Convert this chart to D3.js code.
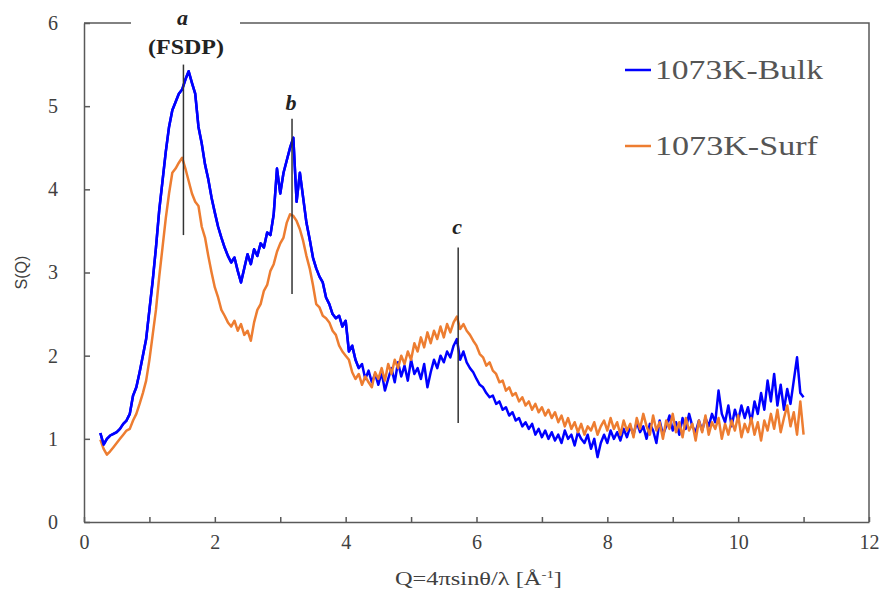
<!DOCTYPE html>
<html>
<head>
<meta charset="utf-8">
<script src="https://cdn.jsdelivr.net/npm/d3@7"></script>
<style>
  body { margin: 0; background: #fff; }
  svg { display: block; }
</style>
</head>
<body>
<svg width="880" height="599"></svg>
<script>
"use strict";

// Q grid [1/A]
const qValues = [
    0.25, 0.30, 0.35, 0.40, 0.45, 0.50, 0.55, 0.60, 0.65, 0.70,
    0.75, 0.80, 0.85, 0.90, 0.95, 1.00, 1.05, 1.10, 1.15, 1.20,
    1.25, 1.30, 1.35, 1.40, 1.45, 1.50, 1.55, 1.60, 1.65, 1.70,
    1.75, 1.80, 1.85, 1.90, 1.95, 2.00, 2.05, 2.10, 2.15, 2.20,
    2.25, 2.30, 2.35, 2.40, 2.45, 2.50, 2.55, 2.60, 2.65, 2.70,
    2.75, 2.80, 2.85, 2.90, 2.95, 3.00, 3.05, 3.10, 3.15, 3.20,
    3.25, 3.30, 3.35, 3.40, 3.45, 3.50, 3.55, 3.60, 3.65, 3.70,
    3.75, 3.80, 3.85, 3.90, 3.95, 4.00, 4.05, 4.10, 4.15, 4.20,
    4.25, 4.30, 4.35, 4.40, 4.45, 4.50, 4.55, 4.60, 4.65, 4.70,
    4.75, 4.80, 4.85, 4.90, 4.95, 5.00, 5.05, 5.10, 5.15, 5.20,
    5.25, 5.30, 5.35, 5.40, 5.45, 5.50, 5.55, 5.60, 5.65, 5.70,
    5.75, 5.80, 5.85, 5.90, 5.95, 6.00, 6.05, 6.10, 6.15, 6.20,
    6.25, 6.30, 6.35, 6.40, 6.45, 6.50, 6.55, 6.60, 6.65, 6.70,
    6.75, 6.80, 6.85, 6.90, 6.95, 7.00, 7.05, 7.10, 7.15, 7.20,
    7.25, 7.30, 7.35, 7.40, 7.45, 7.50, 7.55, 7.60, 7.65, 7.70,
    7.75, 7.80, 7.85, 7.90, 7.95, 8.00, 8.05, 8.10, 8.15, 8.20,
    8.25, 8.30, 8.35, 8.40, 8.45, 8.50, 8.55, 8.60, 8.65, 8.70,
    8.75, 8.80, 8.85, 8.90, 8.95, 9.00, 9.05, 9.10, 9.15, 9.20,
    9.25, 9.30, 9.35, 9.40, 9.45, 9.50, 9.55, 9.60, 9.65, 9.70,
    9.75, 9.80, 9.85, 9.90, 9.95, 10.00, 10.05, 10.10, 10.15, 10.20,
    10.25, 10.30, 10.35, 10.40, 10.45, 10.50, 10.55, 10.60, 10.65, 10.70,
    10.75, 10.80, 10.85, 10.90, 10.95, 11.00
];

const bulkValues = [
    1.07, 0.93, 1.00, 1.04, 1.06, 1.08, 1.12, 1.18, 1.22, 1.30,
    1.52, 1.62, 1.80, 2.00, 2.20, 2.55, 2.90, 3.30, 3.75, 4.10,
    4.45, 4.75, 4.95, 5.05, 5.15, 5.20, 5.32, 5.42, 5.28, 5.15,
    4.75, 4.55, 4.30, 4.12, 3.90, 3.72, 3.55, 3.42, 3.30, 3.20,
    3.12, 3.18, 3.02, 2.88, 3.05, 3.22, 3.10, 3.28, 3.20, 3.35,
    3.30, 3.48, 3.45, 3.70, 4.25, 3.95, 4.20, 4.35, 4.50, 4.62,
    3.85, 4.20, 3.90, 3.60, 3.40, 3.18, 3.05, 2.95, 2.88, 2.70,
    2.62, 2.50, 2.45, 2.48, 2.35, 2.42, 2.05, 2.12, 1.95, 1.85,
    1.90, 1.72, 1.82, 1.68, 1.78, 1.65, 1.80, 1.58, 1.72, 1.85,
    1.68, 1.92, 1.75, 1.88, 1.70, 1.95, 1.78, 1.85, 1.72, 1.90,
    1.62, 1.80, 1.95, 1.85, 2.00, 1.92, 2.05, 1.98, 2.12, 2.20,
    1.95, 2.05, 1.92, 1.85, 1.80, 1.72, 1.65, 1.62, 1.55, 1.50,
    1.52, 1.42, 1.45, 1.35, 1.38, 1.28, 1.32, 1.22, 1.25, 1.15,
    1.20, 1.12, 1.18, 1.05, 1.12, 1.02, 1.10, 1.00, 1.08, 0.98,
    1.05, 0.95, 1.10, 1.00, 1.05, 0.92, 1.08, 1.00, 0.95, 1.05,
    0.88, 1.00, 0.78, 0.95, 1.05, 0.95, 1.10, 1.00, 1.08, 0.98,
    1.12, 1.02, 1.15, 1.05, 1.20, 1.08, 1.15, 1.00, 1.18, 1.10,
    0.95, 1.22, 1.05, 1.15, 1.28, 1.10, 1.20, 1.05, 1.25, 1.12,
    1.30, 1.15, 1.08, 1.22, 1.10, 1.25, 1.15, 1.30, 1.20, 1.58,
    1.30, 1.20, 1.40, 1.15, 1.35, 1.22, 1.40, 1.25, 1.38, 1.20,
    1.45, 1.30, 1.55, 1.35, 1.70, 1.45, 1.78, 1.40, 1.65, 1.35,
    1.60, 1.42, 1.70, 1.98, 1.55, 1.50
];

const surfValues = [
    0.99, 0.88, 0.81, 0.85, 0.90, 0.95, 1.00, 1.05, 1.10, 1.12,
    1.22, 1.30, 1.42, 1.55, 1.70, 1.95, 2.25, 2.55, 2.95, 3.30,
    3.65, 3.95, 4.20, 4.25, 4.32, 4.38, 4.25, 4.10, 3.95, 3.85,
    3.80, 3.55, 3.42, 3.20, 3.00, 2.82, 2.70, 2.55, 2.48, 2.40,
    2.35, 2.42, 2.30, 2.38, 2.25, 2.30, 2.18, 2.40, 2.55, 2.62,
    2.78, 2.85, 3.02, 3.10, 3.25, 3.35, 3.42, 3.60, 3.70, 3.68,
    3.62, 3.52, 3.38, 3.20, 3.05, 2.85, 2.62, 2.58, 2.48, 2.45,
    2.40, 2.30, 2.25, 2.12, 2.05, 2.00, 1.95, 1.80, 1.72, 1.78,
    1.65, 1.75, 1.68, 1.62, 1.80, 1.72, 1.85, 1.70, 1.90, 1.78,
    1.95, 1.85, 2.00, 1.90, 2.05, 1.95, 2.15, 2.05, 2.22, 2.10,
    2.28, 2.15, 2.30, 2.20, 2.35, 2.22, 2.38, 2.28, 2.40, 2.47,
    2.32, 2.38, 2.30, 2.25, 2.18, 2.12, 2.02, 1.98, 1.88, 1.92,
    1.82, 1.78, 1.68, 1.70, 1.58, 1.62, 1.52, 1.55, 1.45, 1.50,
    1.40, 1.45, 1.35, 1.42, 1.32, 1.38, 1.28, 1.35, 1.25, 1.32,
    1.20, 1.28, 1.15, 1.25, 1.12, 1.20, 1.08, 1.18, 1.05, 1.15,
    1.10, 1.20, 1.05, 1.15, 1.22, 1.10, 1.25, 1.12, 1.20, 1.05,
    1.22, 1.10, 1.18, 1.02, 1.25, 1.12, 1.30, 1.15, 1.05, 1.28,
    1.10, 1.20, 1.00, 1.22, 1.12, 1.30, 1.08, 1.20, 1.02, 1.25,
    1.10, 1.18, 0.98, 1.22, 1.08, 1.28, 1.05, 1.20, 1.12, 1.25,
    1.00, 1.18, 1.05, 1.22, 1.10, 1.28, 1.02, 1.18, 1.08, 1.25,
    1.05, 1.20, 0.98, 1.22, 1.10, 1.30, 1.12, 1.35, 1.08, 1.25,
    1.40, 1.15, 1.32, 1.05, 1.45, 1.05
];

const seriesNames = ['1073K-Bulk', '1073K-Surf'];
const seriesColors = ['#0000ff', '#ed7d31'];

// peak markers: label, Q position, S(Q) span of the vertical line
const peakLabels = ['a', 'b', 'c'];
const peakQ = [1.52, 3.18, 5.72];
const peakTop = [5.5, 4.85, 3.3];
const peakBottom = [3.45, 2.74, 1.19];

const xTicks = d3.range(0, 13, 1);
const yTicks = [0, 1, 2, 3, 4, 5, 6];

const svg = d3.select('svg');
const margin = {top: 23, right: 11, bottom: 77, left: 84},
    width = +svg.attr('width') - margin.left - margin.right,
    height = +svg.attr('height') - margin.top - margin.bottom,
    g = svg.append('g').attr('transform', `translate(${margin.left},${margin.top})`);

const x = d3.scaleLinear().domain([0, 12]).range([0, width]);
const y = d3.scaleLinear().domain([0, 6]).range([height, 0]);

const axisColor = '#595959';
const serif = "'Liberation Serif', 'Times New Roman', serif";
const sans = "'Liberation Sans', Arial, sans-serif";

// frame (top and right)
g.append('path')
    .attr('d', `M0,0H${width}V${height}`)
    .attr('fill', 'none')
    .attr('stroke', axisColor)
    .attr('stroke-width', 1.5);

const xAxis = g.append('g')
    .attr('transform', `translate(0,${height})`)
    .call(d3.axisBottom(x).tickValues(xTicks).tickSizeInner(-5).tickSizeOuter(0)
        .tickPadding(13).tickFormat(d => d % 2 === 0 ? d : ''));
xAxis.select('.domain').attr('stroke', axisColor).attr('stroke-width', 1.5);
xAxis.selectAll('.tick line').attr('stroke', axisColor).attr('stroke-width', 1.5);
xAxis.selectAll('.tick text')
    .style('font-family', serif)
    .attr('fill', '#404040')
    .attr('font-size', 20);

const yAxis = g.append('g')
    .call(d3.axisLeft(y).tickValues(yTicks).tickSizeInner(-6).tickSizeOuter(0)
        .tickPadding(26).tickFormat(d3.format('d')));
yAxis.select('.domain').attr('stroke', axisColor).attr('stroke-width', 1.5);
yAxis.selectAll('.tick line').attr('stroke', axisColor).attr('stroke-width', 1.5);
yAxis.selectAll('.tick text')
    .style('font-family', serif)
    .attr('fill', '#404040')
    .attr('font-size', 20);

// axis titles
svg.append('text')
    .style('font-family', serif)
    .attr('x', 395)
    .attr('y', 585)
    .attr('textLength', 167)
    .attr('lengthAdjust', 'spacingAndGlyphs')
    .attr('font-size', 18)
    .attr('fill', '#404040')
    .html('Q=4πsinθ/λ [Å<tspan font-size="11" dy="-7">-1</tspan><tspan dy="7">]</tspan>');

svg.append('text')
    .style('font-family', sans)
    .attr('transform', `translate(27,${margin.top + y(3)}) rotate(-90)`)
    .attr('text-anchor', 'middle')
    .attr('font-size', 16)
    .attr('fill', '#404040')
    .text('S(Q)');

// series
const line = d3.line().x((d, i) => x(qValues[i])).y(d => y(d));
[bulkValues, surfValues].forEach((vals, k) => {
    g.append('path')
        .datum(vals)
        .attr('fill', 'none')
        .attr('stroke', seriesColors[k])
        .attr('stroke-width', 2.5)
        .attr('stroke-linejoin', 'round')
        .attr('d', line);
});
// bulk drawn again over surf where it sits on top in the reference
g.append('path')
    .datum(bulkValues.slice(0, 80))
    .attr('fill', 'none')
    .attr('stroke', seriesColors[0])
    .attr('stroke-width', 2.5)
    .attr('stroke-linejoin', 'round')
    .attr('d', line);

// peak markers
peakQ.forEach((q, i) => {
    g.append('line')
        .attr('x1', x(q)).attr('x2', x(q))
        .attr('y1', y(peakTop[i])).attr('y2', y(peakBottom[i]))
        .attr('stroke', '#333')
        .attr('stroke-width', 1.5);
});

// white gap in the top frame behind the "a (FSDP)" label
g.append('rect')
    .attr('x', 47).attr('y', -6)
    .attr('width', 109).attr('height', 12)
    .attr('fill', '#fff');

const labelY = [25, 110, 234];
peakLabels.forEach((lab, i) => {
    svg.append('text')
        .style('font-family', serif)
        .attr('x', margin.left + x(peakQ[i]) - 1)
        .attr('y', labelY[i])
        .attr('text-anchor', 'middle')
        .attr('font-style', 'italic')
        .attr('font-weight', 'bold')
        .attr('font-size', 22)
        .attr('fill', '#222')
        .text(lab);
});
svg.append('text')
    .style('font-family', serif)
    .attr('x', 148)
    .attr('y', 54)
    .attr('textLength', 76)
    .attr('lengthAdjust', 'spacingAndGlyphs')
    .attr('font-weight', 'bold')
    .attr('font-size', 21)
    .attr('fill', '#222')
    .text('(FSDP)');

// legend
const legend = svg.append('g').attr('transform', 'translate(625,70)');
seriesNames.forEach((name, i) => {
    const row = legend.append('g').attr('transform', `translate(0,${i * 76})`);
    row.append('line')
        .attr('x1', 0).attr('x2', 26)
        .attr('stroke', seriesColors[i])
        .attr('stroke-width', 2.5);
    row.append('text')
        .style('font-family', serif)
        .attr('x', 30)
        .attr('y', 9)
        .attr('textLength', i === 0 ? 168 : 163)
        .attr('lengthAdjust', 'spacingAndGlyphs')
        .attr('font-size', 27)
        .attr('fill', '#555')
        .text(name);
});
</script>
</body>
</html>
